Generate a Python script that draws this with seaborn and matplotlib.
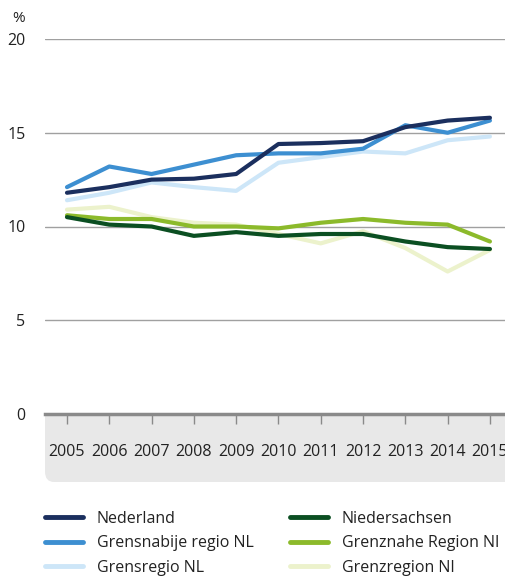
import numpy as np
import pandas as pd
import seaborn as sns
import matplotlib.pyplot as plt
from matplotlib.patches import FancyBboxPatch
from matplotlib.lines import Line2D

years = list(range(2005, 2016))

nederland = [11.8, 12.1, 12.5, 12.55, 12.8, 14.4, 14.45, 14.55, 15.3, 15.65, 15.8]
grensnabije = [12.1, 13.2, 12.8, 13.3, 13.8, 13.9, 13.9, 14.15, 15.4, 15.0, 15.65]
grensregio_nl = [11.4, 11.8, 12.35, 12.1, 11.9, 13.4, 13.7, 14.0, 13.9, 14.6, 14.8]
niedersachsen = [10.5, 10.1, 10.0, 9.5, 9.7, 9.5, 9.6, 9.6, 9.2, 8.9, 8.8]
grenznahe = [10.6, 10.4, 10.4, 10.0, 10.0, 9.9, 10.2, 10.4, 10.2, 10.1, 9.2]
grenzregion_ni = [10.9, 11.05, 10.5, 10.2, 10.1, 9.6, 9.1, 9.75, 8.85, 7.6, 8.75]

series = {
    'Nederland': nederland,
    'Grensnabije regio NL': grensnabije,
    'Grensregio NL': grensregio_nl,
    'Niedersachsen': niedersachsen,
    'Grenznahe Region NI': grenznahe,
    'Grenzregion NI': grenzregion_ni,
}
colors = {
    'Nederland': '#1b2f5e',
    'Grensnabije regio NL': '#3d8fd1',
    'Grensregio NL': '#cde6f8',
    'Niedersachsen': '#0b4f22',
    'Grenznahe Region NI': '#8cba2b',
    'Grenzregion NI': '#ecf2cc',
}
# draw order: light ones first
draw_order = ['Grenzregion NI', 'Grenznahe Region NI', 'Niedersachsen',
              'Grensregio NL', 'Grensnabije regio NL', 'Nederland']

df = pd.concat([pd.DataFrame({'jaar': years, 'waarde': series[k], 'reeks': k})
                for k in draw_order], ignore_index=True)

sns.set_style('white')
plt.rcParams['font.family'] = ['Open Sans', 'DejaVu Sans']

W, H = 506, 579
fig = plt.figure(figsize=(W / 100, H / 100), dpi=100)

def fx(px):
    return px / W

def fy(py):
    return 1 - py / H

ax = fig.add_axes([fx(45), fy(414), 1 - fx(45), fy(39) - fy(414)])
ax.set_facecolor('white')

# gray band behind the x tick labels
band = FancyBboxPatch((fx(45), fy(482)), 1.2, fy(395) - fy(482),
                      boxstyle='round,pad=0,rounding_size=0.018',
                      transform=fig.transFigure, facecolor='#e8e8e8',
                      edgecolor='none', zorder=-1)
fig.patches.append(band)

sns.lineplot(data=df, x='jaar', y='waarde', hue='reeks', hue_order=draw_order,
             palette=colors, linewidth=3.0, legend=False, ax=ax)
for ln in ax.lines:
    ln.set_solid_joinstyle('round')

ax.set_xlim(2004.48, 2015.38)
ax.set_ylim(0, 20)
ax.set_yticks([0, 5, 10, 15, 20])
ax.set_xticks(years)
ax.set_xticklabels([str(y) for y in years])
ax.set_xlabel('')
ax.set_ylabel('')
ax.grid(axis='y', color='#a0a0a0', linewidth=1.0)
ax.grid(axis='x', visible=False)
for s in ['top', 'right', 'left']:
    ax.spines[s].set_visible(False)
ax.spines['bottom'].set_color('#8a8a8a')
ax.spines['bottom'].set_linewidth(2.5)
ax.tick_params(axis='x', direction='out', length=7.5, width=1, color='#8a8a8a',
               pad=14, labelsize=11.5, labelcolor='#222222', bottom=True)
ax.tick_params(axis='y', length=0, pad=14, labelsize=11.5, labelcolor='#222222')

fig.text(fx(12), fy(18), '%', fontsize=11, color='#222222', va='center', ha='left')

left_names = ['Nederland', 'Grensnabije regio NL', 'Grensregio NL']
right_names = ['Niedersachsen', 'Grenznahe Region NI', 'Grenzregion NI']
for names, x0 in [(left_names, 45), (right_names, 290)]:
    handles = [Line2D([0], [0], color=colors[n], linewidth=3.5) for n in names]
    leg = fig.legend(handles, names, loc='upper left',
                     bbox_to_anchor=(fx(x0), fy(511)),
                     frameon=False, fontsize=11.5, handlelength=2.4,
                     handletextpad=0.85, labelspacing=0.52,
                     borderaxespad=0, borderpad=0, labelcolor='#222222')

fig.savefig('out.png', dpi=100)
